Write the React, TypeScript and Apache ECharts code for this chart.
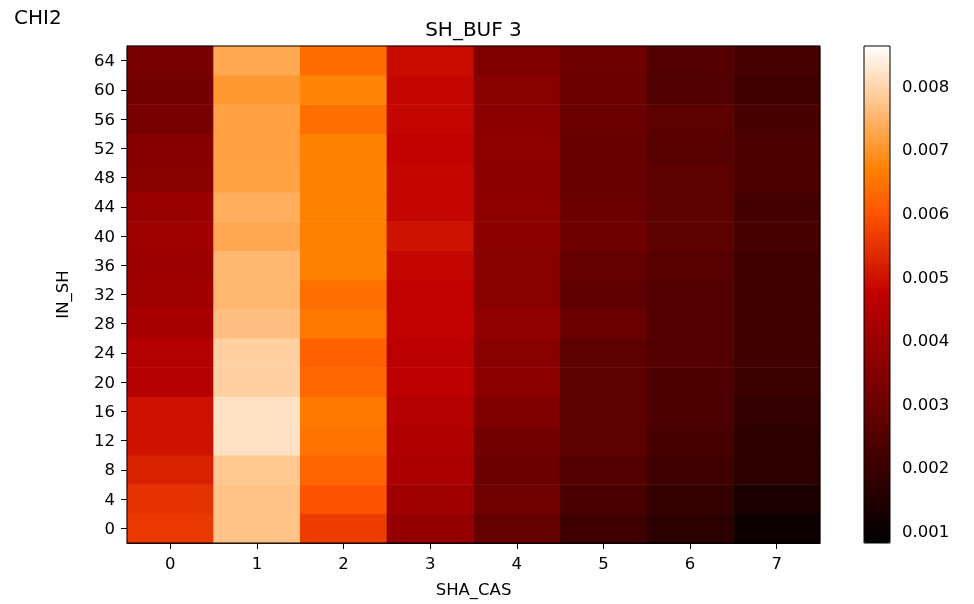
import React, { useEffect, useRef } from "react";
import * as echarts from "echarts";

// SHA_CAS categories (x) and IN_SH categories (y, bottom -> top)
const casLabels = ["0", "1", "2", "3", "4", "5", "6", "7"];
const shLabels = ["0", "4", "8", "12", "16", "20", "24", "28", "32", "36", "40", "44", "48", "52", "56", "60", "64"];

// Values per SHA_CAS column, listed from IN_SH = 0 up to IN_SH = 64
const col0 = [0.0056, 0.00548, 0.00523, 0.005, 0.00498, 0.0045, 0.0045, 0.00425, 0.00409, 0.00401, 0.00409, 0.00392, 0.0036, 0.00358, 0.00327, 0.00319, 0.00327];
const col1 = [0.00772, 0.00772, 0.00779, 0.00819, 0.00819, 0.00791, 0.00791, 0.00766, 0.00754, 0.00754, 0.0073, 0.00739, 0.0072, 0.00718, 0.00718, 0.00705, 0.0073];
const col2 = [0.00564, 0.00601, 0.00626, 0.0065, 0.00656, 0.00632, 0.00619, 0.00656, 0.00644, 0.00669, 0.00669, 0.00669, 0.00669, 0.00669, 0.00644, 0.00675, 0.00638];
const col3 = [0.00384, 0.00409, 0.00433, 0.00441, 0.0045, 0.00466, 0.00466, 0.00474, 0.00474, 0.00482, 0.00499, 0.00482, 0.00482, 0.00474, 0.00482, 0.00482, 0.0049];
const col4 = [0.00286, 0.00311, 0.00303, 0.00319, 0.00343, 0.00368, 0.0036, 0.00376, 0.0036, 0.0036, 0.00368, 0.00372, 0.00368, 0.00372, 0.00364, 0.0036, 0.00343];
const col5 = [0.00209, 0.00233, 0.00254, 0.0027, 0.0027, 0.0027, 0.0027, 0.00298, 0.00274, 0.00286, 0.00307, 0.00298, 0.00294, 0.00294, 0.00298, 0.00298, 0.00307];
const col6 = [0.00168, 0.00188, 0.00209, 0.00229, 0.00237, 0.00237, 0.00254, 0.00254, 0.00254, 0.00258, 0.0027, 0.0027, 0.0027, 0.00258, 0.0027, 0.00245, 0.00254];
const col7 = [0.0011, 0.00135, 0.00168, 0.00172, 0.00184, 0.00205, 0.00213, 0.00213, 0.00213, 0.00213, 0.00229, 0.00221, 0.00237, 0.00237, 0.00229, 0.00213, 0.00225];
const columns = [col0, col1, col2, col3, col4, col5, col6, col7];

// Colour bar
const colorbarTicks = [0.001, 0.002, 0.003, 0.004, 0.005, 0.006, 0.007, 0.008];
const valueMin = 0.00082;
const valueMax = 0.00863;

function gistHeat(t: number): string {
  const r = Math.min(1, 1.5 * t);
  const g = Math.max(0, Math.min(1, 2 * t - 1));
  const b = Math.max(0, Math.min(1, 4 * t - 3));
  return `rgb(${Math.round(r * 255)},${Math.round(g * 255)},${Math.round(b * 255)})`;
}

export default function App() {
  const ref = useRef<HTMLDivElement>(null);
  useEffect(() => {
    if (!ref.current) return;
    const chart = echarts.init(ref.current, null, { renderer: "svg" });
    const data: number[][] = [];
    columns.forEach((col, xi) => col.forEach((v, yi) => data.push([xi, yi, v])));
    const stops = Array.from({ length: 13 }, (_, k) => gistHeat(k / 12));
    const font = "DejaVu Sans";
    const tickText = { color: "#000", fontSize: 16.5, fontFamily: font };
    chart.setOption({
      animation: false,
      textStyle: { fontFamily: font },
      graphic: [
        { type: "text", x: 14, y: 17, style: { text: "CHI2", fontSize: 20, fontFamily: font, fill: "#000", textAlign: "left", textVerticalAlign: "middle" } },
        { type: "text", x: 473.5, y: 29, style: { text: "SH_BUF 3", fontSize: 20, fontFamily: font, fill: "#000", textAlign: "center", textVerticalAlign: "middle" } },
      ],
      grid: [
        { left: 127, top: 46, width: 693, height: 497, show: true, borderColor: "#000", borderWidth: 1, backgroundColor: "transparent", z: 10 },
        { left: 864, top: 46, width: 26, height: 497, show: true, borderColor: "#000", borderWidth: 1, backgroundColor: "transparent", z: 10 },
      ],
      xAxis: [
        {
          type: "category",
          gridIndex: 0,
          data: casLabels,
          name: "SHA_CAS",
          nameLocation: "middle",
          nameGap: 38,
          nameTextStyle: tickText,
          axisLine: { show: true, lineStyle: { color: "#000", width: 1 } },
          axisTick: { show: true, alignWithLabel: true, length: 6, lineStyle: { color: "#000" } },
          axisLabel: { ...tickText, margin: 12 },
          splitLine: { show: false },
        },
        { type: "value", gridIndex: 1, show: false, min: 0, max: 1 },
      ],
      yAxis: [
        {
          type: "category",
          gridIndex: 0,
          data: shLabels,
          name: "IN_SH",
          nameLocation: "middle",
          nameGap: 56,
          nameTextStyle: tickText,
          axisLine: { show: true, lineStyle: { color: "#000", width: 1 } },
          axisTick: { show: true, alignWithLabel: true, length: 6, lineStyle: { color: "#000" } },
          axisLabel: { ...tickText, margin: 12 },
          splitLine: { show: false },
        },
        {
          type: "value",
          gridIndex: 1,
          position: "right",
          min: valueMin,
          max: valueMax,
          axisLine: { show: false },
          axisTick: { show: true, length: 6, customValues: colorbarTicks, lineStyle: { color: "#000" } },
          axisLabel: { ...tickText, margin: 12, customValues: colorbarTicks, formatter: (v: number) => v.toFixed(3) },
          splitLine: { show: false },
        },
      ],
      visualMap: {
        type: "continuous",
        seriesIndex: 0,
        min: valueMin,
        max: valueMax,
        calculable: false,
        hoverLink: false,
        orient: "vertical",
        left: 864,
        top: 46,
        padding: 0,
        itemWidth: 26,
        itemHeight: 497,
        text: null,
        inRange: { color: stops },
      },
      series: [
        {
          type: "heatmap",
          xAxisIndex: 0,
          yAxisIndex: 0,
          data,
          itemStyle: { borderWidth: 0 },
          emphasis: { disabled: true },
          label: { show: false },
        },
      ],
    });
    return () => chart.dispose();
  }, []);
  return <div ref={ref} style={{ position: "fixed", left: 0, top: 0, width: 974, height: 604 }} />;
}
